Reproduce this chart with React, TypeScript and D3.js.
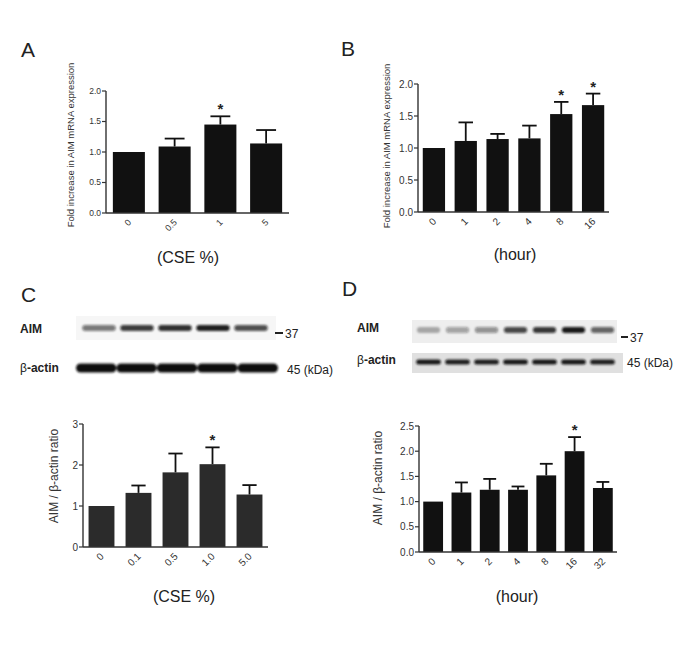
import React from "react";
import * as d3 from "d3";

// ---------- DATA ----------
const catsA = ["0", "0.5", "1", "5"];
const meanA = [1.0, 1.09, 1.45, 1.14];
const errA = [0, 0.13, 0.135, 0.22];
const starA = [false, false, true, false];

const catsB = ["0", "1", "2", "4", "8", "16"];
const meanB = [1.0, 1.11, 1.14, 1.15, 1.53, 1.67];
const errB = [0, 0.29, 0.08, 0.2, 0.19, 0.18];
const starB = [false, false, false, false, true, true];

const catsC = ["0", "0.1", "0.5", "1.0", "5.0"];
const meanC = [1.0, 1.32, 1.82, 2.02, 1.28];
const errC = [0, 0.18, 0.46, 0.41, 0.23];
const starC = [false, false, false, true, false];

const catsD = ["0", "1", "2", "4", "8", "16", "32"];
const meanD = [1.0, 1.18, 1.235, 1.235, 1.52, 2.0, 1.27];
const errD = [0, 0.2, 0.215, 0.065, 0.23, 0.28, 0.12];
const starD = [false, false, false, false, false, true, false];

const ticksA = [0, 0.5, 1.0, 1.5, 2.0];
const ticksB = [0, 0.5, 1.0, 1.5, 2.0];
const ticksC = [0, 1, 2, 3];
const ticksD = [0, 0.5, 1.0, 1.5, 2.0, 2.5];

// blot band intensities (relative darkness per lane)
const blotC_AIM = [0.55, 0.8, 0.85, 0.92, 0.72];
const blotC_actin = [1, 1, 1, 1, 1];
const blotD_AIM = [0.3, 0.35, 0.42, 0.75, 0.82, 0.95, 0.62];
const blotD_actin = [0.95, 0.92, 0.92, 0.95, 0.95, 0.95, 0.92];

const FONT = "'Liberation Sans', Arial, Helvetica, sans-serif";

type PanelProps = {
  cats: string[];
  mean: number[];
  err: number[];
  star: boolean[];
  ticks: number[];
  fmt: string;
  x0: number;
  x1: number;
  yBase: number;
  yTopPx: number;
  yMax: number;
  fill: string;
  capFrac: number;
  tickFont: number;
  xTickFont: number;
  yLabel: React.ReactNode;
  yLabelX: number;
  yLabelY: number;
  yLabelFont: number;
};

function BarPanel(p: PanelProps) {
  const x = d3
    .scaleBand<string>()
    .domain(p.cats)
    .range([p.x0, p.x1])
    .paddingInner(0.3)
    .paddingOuter(0.15);
  const y = d3.scaleLinear().domain([0, p.yMax]).range([p.yBase, p.yTopPx]);
  const f = d3.format(p.fmt);
  const bw = x.bandwidth();
  return (
    <g fontFamily={FONT}>
      {p.cats.map((c, i) => {
        const bx = x(c)!;
        const cx = bx + bw / 2;
        const top = y(p.mean[i]);
        const et = y(p.mean[i] + p.err[i]);
        const cw = bw * p.capFrac;
        return (
          <g key={c}>
            <rect x={bx} y={top} width={bw} height={p.yBase - top} fill={p.fill} />
            {p.err[i] > 0 && (
              <g stroke="#111" strokeWidth={1.8}>
                <line x1={cx} x2={cx} y1={top} y2={et} />
                <line x1={cx - cw / 2} x2={cx + cw / 2} y1={et} y2={et} />
              </g>
            )}
            {p.star[i] && (
              <text x={cx} y={et - 2} textAnchor="middle" fontSize={15} fontWeight="bold" fill="#222">
                *
              </text>
            )}
            <text
              transform={`translate(${cx + 3},${p.yBase + 10}) rotate(-45)`}
              textAnchor="end"
              fontSize={p.xTickFont}
              fill="#333"
            >
              {c}
            </text>
          </g>
        );
      })}
      <line x1={p.x0} x2={p.x0} y1={p.yBase} y2={p.yTopPx} stroke="#333" strokeWidth={1.4} />
      <line x1={p.x0} x2={p.x1} y1={p.yBase} y2={p.yBase} stroke="#333" strokeWidth={1.4} />
      {p.ticks.map((t) => (
        <g key={t}>
          <line x1={p.x0 - 4} x2={p.x0} y1={y(t)} y2={y(t)} stroke="#333" strokeWidth={1.2} />
          <text x={p.x0 - 5} y={y(t)} dy="0.35em" textAnchor="end" fontSize={p.tickFont} fill="#333">
            {f(t)}
          </text>
        </g>
      ))}
      <text
        transform={`translate(${p.yLabelX},${p.yLabelY}) rotate(-90)`}
        textAnchor="middle"
        fontSize={p.yLabelFont}
        fill="#333"
      >
        {p.yLabel}
      </text>
    </g>
  );
}

type BlotProps = {
  vals: number[];
  x0: number;
  x1: number;
  cy: number;
  h: number;
  widthFrac: number;
  blur: number;
  id: string;
};

function BlotRow(p: BlotProps) {
  const lanes = d3.range(p.vals.length).map(String);
  const x = d3.scaleBand<string>().domain(lanes).range([p.x0, p.x1]);
  const op = d3.scaleLinear().domain([0, 1]).range([0, 1]);
  return (
    <g filter={`url(#${p.id})`}>
      {p.vals.map((v, i) => {
        const cx = x(String(i))! + x.bandwidth() / 2;
        const w = x.bandwidth() * p.widthFrac;
        return (
          <rect
            key={i}
            x={cx - w / 2}
            y={p.cy - p.h / 2}
            width={w}
            height={p.h}
            rx={p.h / 2}
            fill="#111"
            opacity={op(v)}
          />
        );
      })}
    </g>
  );
}

export default function App() {
  const betaLabel = (
    <>
      <tspan>β</tspan>
      <tspan>-actin ratio</tspan>
    </>
  );
  return (
    <svg
      width={685}
      height={657}
      viewBox="0 0 685 657"
      style={{ position: "absolute", left: 0, top: 0, background: "#fff" }}
    >
      <defs>
        <filter id="blur1" x="-20%" y="-100%" width="140%" height="300%">
          <feGaussianBlur stdDeviation="1.3" />
        </filter>
        <filter id="blur2" x="-20%" y="-100%" width="140%" height="300%">
          <feGaussianBlur stdDeviation="0.9" />
        </filter>
      </defs>
      <rect width={685} height={657} fill="#fff" />

      {/* panel letters */}
      <g fontFamily={FONT} fontSize={21} fill="#222">
        <text x={21} y={57}>A</text>
        <text x={341} y={56}>B</text>
        <text x={21} y={302}>C</text>
        <text x={342} y={296}>D</text>
      </g>

      {/* Panel A */}
      <BarPanel
        cats={catsA}
        mean={meanA}
        err={errA}
        star={starA}
        ticks={ticksA}
        fmt=".1f"
        x0={106}
        x1={289}
        yBase={213}
        yTopPx={91}
        yMax={2}
        fill="#111"
        capFrac={0.62}
        tickFont={8.5}
        xTickFont={9}
        yLabel="Fold increase in AIM mRNA expression"
        yLabelX={74}
        yLabelY={145}
        yLabelFont={9.5}
      />
      {/* Panel B */}
      <BarPanel
        cats={catsB}
        mean={meanB}
        err={errB}
        star={starB}
        ticks={ticksB}
        fmt=".1f"
        x0={418}
        x1={609}
        yBase={212}
        yTopPx={84}
        yMax={2}
        fill="#111"
        capFrac={0.65}
        tickFont={10}
        xTickFont={10}
        yLabel="Fold increase in AIM mRNA expression"
        yLabelX={390}
        yLabelY={146}
        yLabelFont={9.5}
      />
      {/* Panel C */}
      <BarPanel
        cats={catsC}
        mean={meanC}
        err={errC}
        star={starC}
        ticks={ticksC}
        fmt="d"
        x0={83}
        x1={268}
        yBase={547}
        yTopPx={424}
        yMax={3}
        fill="#2b2b2b"
        capFrac={0.55}
        tickFont={10}
        xTickFont={10}
        yLabel={<>AIM / {betaLabel}</>}
        yLabelX={58}
        yLabelY={476}
        yLabelFont={12}
      />
      {/* Panel D */}
      <BarPanel
        cats={catsD}
        mean={meanD}
        err={errD}
        star={starD}
        ticks={ticksD}
        fmt=".1f"
        x0={419}
        x1={617}
        yBase={552}
        yTopPx={426}
        yMax={2.5}
        fill="#111"
        capFrac={0.65}
        tickFont={10}
        xTickFont={10}
        yLabel={<>AIM / {betaLabel}</>}
        yLabelX={382}
        yLabelY={478}
        yLabelFont={12}
      />

      {/* x-axis titles */}
      <g fontFamily={FONT} fontSize={16} fill="#222" textAnchor="middle">
        <text x={188} y={263}>(CSE %)</text>
        <text x={515} y={260}>(hour)</text>
        <text x={184} y={602}>(CSE %)</text>
        <text x={517} y={602}>(hour)</text>
      </g>

      {/* Blot C */}
      <rect x={76} y={316} width={200} height={24} fill="#f6f6f6" />
      <BlotRow vals={blotC_AIM} x0={80} x1={270} cy={328} h={6} widthFrac={0.88} blur={1.3} id="blur1" />
      <BlotRow vals={blotC_actin} x0={76} x1={278} cy={368} h={9} widthFrac={1.0} blur={1.3} id="blur2" />
      <g fontFamily={FONT} fontSize={12} fill="#222">
        <text x={20} y={333} fontWeight="bold">AIM</text>
        <text x={20} y={372}>
          <tspan>β</tspan>
          <tspan fontWeight="bold">-actin</tspan>
        </text>
        <line x1={275} x2={283} y1={333} y2={333} stroke="#222" strokeWidth={2} />
        <text x={285} y={338}>37</text>
        <text x={287} y={374}>45 (kDa)</text>
      </g>

      {/* Blot D */}
      <rect x={412} y={320} width={205} height={23} fill="#eeeeee" />
      <rect x={412} y={353} width={211} height={20} fill="#e0e0e0" />
      <BlotRow vals={blotD_AIM} x0={414} x1={617} cy={330} h={6} widthFrac={0.8} blur={1.3} id="blur1" />
      <BlotRow vals={blotD_actin} x0={414} x1={617} cy={362} h={5} widthFrac={0.85} blur={0.9} id="blur2" />
      <g fontFamily={FONT} fontSize={12} fill="#222">
        <text x={357} y={332} fontWeight="bold">AIM</text>
        <text x={357} y={364}>
          <tspan>β</tspan>
          <tspan fontWeight="bold">-actin</tspan>
        </text>
        <line x1={621} x2={628} y1={337} y2={337} stroke="#222" strokeWidth={2} />
        <text x={630} y={342}>37</text>
        <text x={627} y={367}>45 (kDa)</text>
      </g>
    </svg>
  );
}
